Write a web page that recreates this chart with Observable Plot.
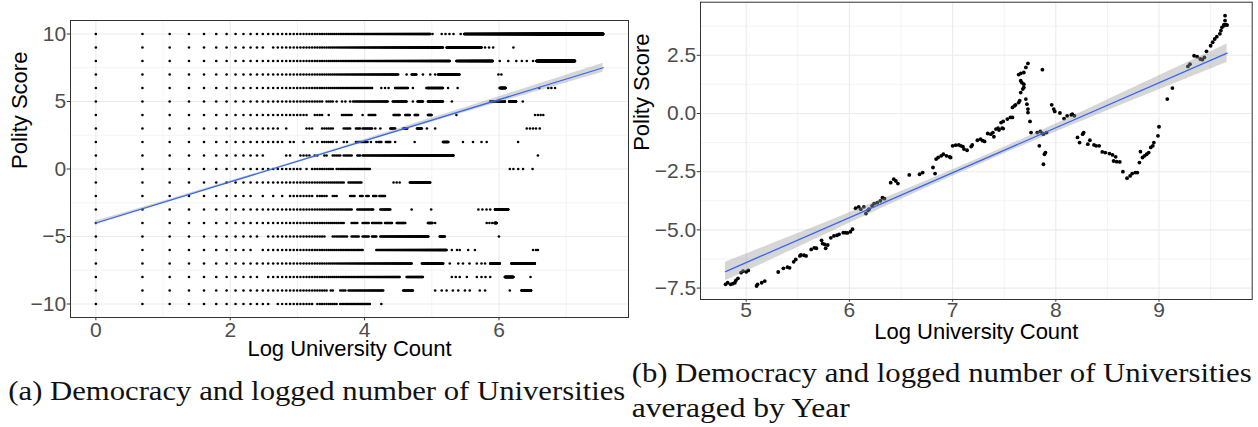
<!DOCTYPE html>
<html><head><meta charset="utf-8">
<script src="https://cdn.jsdelivr.net/npm/d3@7"></script>
<script src="https://cdn.jsdelivr.net/npm/@observablehq/plot@0.6"></script>
<style>
html,body{margin:0;padding:0;background:#fff;width:1258px;height:427px;overflow:hidden;position:relative}
#a,#b{position:absolute;top:0}
#a{left:0}
#b{left:628px}
#cap{position:absolute;left:0;top:0;pointer-events:none}
</style></head><body>
<div id="a"></div><div id="b"></div>
<svg id="cap" width="1258" height="427"></svg>
<script>
// ---------- Panel (a): Polity score vs log university count ----------
const polityLevels = [10,9,8,7,6,5,4,3,2,1,0,-1,-2,-3,-4,-5,-6,-7,-8,-9,-10];
// runs of university counts (integers) observed at each polity level
const universityCountRuns = [
  [[1,145],[150,150],[172,172],[182,182],[193,193],[205,205],[228,228],[240,1900]],
  [[1,12],[14,175],[185,311],[328,328],[348,348],[370,370],[500,500]],
  [[1,194],[214,368],[408,408],[463,463],[522,522],[567,567],[610,610],[670,670],[705,1250]],
  [[1,90],[102,102],[110,118],[130,130],[145,145],[156,156],[163,224],[400,400],[418,418]],
  [[1,61],[70,70],[74,74],[78,78],[86,104],[112,112],[137,175],[189,189],[218,218],[408,445],[735,735],[840,840],[880,880],[930,930]],
  [[1,29],[31,34],[36,36],[39,39],[41,41],[44,44],[46,77],[83,102],[112,112],[120,130],[140,175],[200,200],[355,440],[470,520],[575,575]],
  [[1,23],[26,29],[32,32],[39,45],[53,53],[58,64],[84,92],[100,107],[115,121],[140,148],[214,214],[690,690],[720,720],[750,750],[780,780]],
  [[1,15],[17,17],[23,25],[29,34],[40,44],[48,51],[53,61],[64,64],[69,69],[80,86],[97,103],[119,128],[138,138],[156,156],[610,610],[640,640],[670,670],[700,700],[740,740]],
  [[1,16],[18,19],[22,22],[25,25],[27,27],[29,34],[36,36],[40,40],[42,42],[48,57],[60,60],[65,65],[67,70],[75,80],[86,86],[115,115],[175,190],[236,236],[274,274],[311,311],[336,336],[536,536]],
  [[1,12],[17,18],[21,24],[26,27],[30,31],[34,38],[40,45],[49,51],[53,205],[720,720]],
  [[1,21],[23,23],[25,34],[36,59],[474,474],[500,500],[537,537],[577,577],[665,665]],
  [[1,40],[43,52],[84,84],[88,88],[92,92],[107,145]],
  [[1,10],[12,12],[14,14],[16,16],[18,25],[27,31],[34,36],[44,47],[51,53],[56,58],[62,65],[68,74]],
  [[1,45],[49,62],[69,80],[110,110],[147,147],[297,297],[315,315],[335,335],[354,354],[380,463]],
  [[1,40],[45,49],[53,58],[61,70],[74,82],[88,100],[140,150],[156,156],[336,336],[350,350],[365,365],[378,390]],
  [[1,11],[13,30],[34,42],[45,50],[53,58],[61,65],[69,141],[167,180],[403,403]],
  [[1,10],[12,53],[65,185],[200,200],[216,216],[225,225],[255,255],[282,282],[670,670],[700,700],[720,720]],
  [[1,110],[128,176],[194,194],[220,220],[236,236],[260,260],[290,290],[311,311],[328,328],[354,408],[486,687]],
  [[1,11],[13,92],[102,130],[200,200],[212,212],[225,225],[250,250],[290,290],[311,311],[330,330],[354,354],[440,500],[645,645]],
  [[1,31],[33,34],[38,41],[43,72],[97,112],[156,156],[172,172],[185,185],[203,203],[220,220],[243,243],[261,261],[303,303],[328,328],[474,474],[565,650]],
  [[1,13],[15,25],[27,36],[38,59],[70,70]]
];
const xTicksA = [0,2,4,6];
const xMinorA = [1,3,5,7];
const yTicksA = [-10,-5,0,5,10];
const yMinorA = [-7.5,-2.5,2.5,7.5];
const fitAX = [0, 7.55];
const fitAY = [-4.0, 7.50];
const bandAX  = [0, 1, 2, 3, 4, 5, 6, 7, 7.55];
const bandALo = [-4.15, -2.58, -1.01, 0.52, 2.00, 3.47, 4.92, 6.37, 7.17];
const bandAHi = [-3.85, -2.38, -0.89, 0.62, 2.18, 3.77, 5.36, 6.95, 7.83];

// ---------- Panel (b): averaged by year ----------
const logUnivB = [4.80,4.82,4.85,4.87,4.89,4.90,4.92,4.95,4.97,5.00,5.02,5.10,5.11,5.15,5.18,5.31,5.36,5.40,5.42,5.46,5.48,5.52,5.53,5.56,5.58,5.63,5.66,5.68,5.73,5.74,5.76,5.77,5.79,5.82,5.85,5.88,5.90,5.94,5.96,5.98,6.01,6.03,6.06,6.09,6.11,6.14,6.16,6.18,6.19,6.22,6.24,6.27,6.30,6.32,6.34,6.40,6.43,6.45,6.47,6.58,6.68,6.71,6.81,6.83,6.84,6.86,6.89,6.91,6.94,6.97,6.98,7.00,7.03,7.06,7.08,7.10,7.11,7.14,7.18,7.19,7.24,7.27,7.29,7.31,7.34,7.37,7.39,7.40,7.42,7.44,7.45,7.48,7.49,7.47,7.49,7.53,7.56,7.58,7.58,7.60,7.61,7.64,7.65,7.66,7.68,7.69,7.69,7.67,7.66,7.64,7.66,7.69,7.71,7.73,7.71,7.72,7.73,7.73,7.75,7.76,7.82,7.85,7.87,7.88,7.91,7.84,7.89,7.90,7.88,7.87,7.96,7.98,7.99,8.04,8.08,8.11,8.15,8.16,8.18,8.21,8.23,8.26,8.27,8.31,8.33,8.37,8.39,8.42,8.45,8.48,8.52,8.55,8.58,8.56,8.59,8.62,8.65,8.69,8.72,8.74,8.77,8.79,8.81,8.82,8.84,8.86,8.88,8.90,8.92,8.94,8.95,8.99,9.00,9.08,9.13,9.28,9.30,9.34,9.37,9.40,9.42,9.44,9.46,9.50,9.52,9.54,9.56,9.59,9.60,9.61,9.63,9.64,9.64,9.63,9.65,9.66];
const polityB = [-7.34,-7.27,-7.34,-7.31,-7.27,-7.17,-7.08,-6.84,-6.77,-6.80,-6.74,-7.41,-7.34,-7.27,-7.20,-6.81,-6.65,-6.60,-6.63,-6.37,-6.27,-6.12,-6.08,-6.09,-6.12,-5.84,-5.77,-5.79,-5.45,-5.59,-5.62,-5.79,-5.65,-5.34,-5.26,-5.23,-5.19,-5.12,-5.12,-5.13,-5.08,-4.97,-4.07,-4.01,-4.11,-4.01,-4.30,-4.16,-4.11,-3.97,-3.87,-3.83,-3.75,-3.62,-3.66,-2.97,-2.82,-2.90,-3.01,-2.64,-2.61,-2.54,-2.32,-2.58,-1.96,-1.89,-1.82,-1.75,-1.82,-1.86,-1.89,-1.39,-1.36,-1.35,-1.39,-1.42,-1.53,-1.58,-1.42,-1.35,-1.15,-1.10,-1.17,-1.20,-0.86,-0.89,-0.82,-1.00,-0.67,-0.63,-0.71,-0.63,-0.65,-0.39,-0.34,-0.24,-0.17,-0.17,0.26,0.33,0.37,0.47,0.55,0.90,1.05,1.12,1.26,1.33,1.41,1.67,1.72,1.76,1.98,2.15,0.62,0.40,0.19,0.04,-0.34,-0.82,-0.82,-0.77,-0.86,-0.89,-0.82,-1.39,-1.75,-1.68,-2.18,1.88,0.37,0.19,0.09,0.02,-0.22,-0.10,-0.06,-0.03,-0.10,-1.03,-1.25,-0.89,-0.82,-1.32,-1.15,-1.35,-1.39,-1.39,-1.65,-1.68,-1.72,-1.78,-1.86,-2.04,-2.07,-2.08,-2.50,-2.78,-2.68,-2.58,-2.54,-2.54,-2.11,-1.64,-1.89,-1.82,-1.75,-1.68,-1.46,-1.39,-1.25,-0.96,-0.57,0.62,1.09,2.02,2.12,2.48,2.44,2.34,2.31,2.41,2.67,2.91,3.06,3.20,3.30,3.42,3.56,3.70,3.82,3.99,4.20,3.77,3.82,3.80];
const xTicksB = [5,6,7,8,9];
const xMinorB = [5.5,6.5,7.5,8.5,9.5];
const yTicksB = [-7.5,-5,-2.5,0,2.5];
const yMinorB = [-6.25,-3.75,-1.25,1.25,3.75];
const fitBX = [4.80, 9.66];
const fitBY = [-6.79, 2.59];
const bandBX  = [4.80, 5.5, 6, 6.5, 7, 7.5, 8, 8.5, 9, 9.66];
const bandBLo = [-7.19, -5.76, -4.72, -3.69, -2.70, -1.73, -0.79, 0.12, 1.02, 2.19];
const bandBHi = [-6.39, -5.16, -4.26, -3.35, -2.42, -1.45, -0.45, 0.58, 1.62, 2.99];

const xLabel = "Log University Count";
const yLabel = "Polity Score";
const captionA = "(a) Democracy and logged number of Universities";
const captionB1 = "(b) Democracy and logged number of Universities";
const captionB2 = "averaged by Year";

// ---------- build tables ----------
const pointsA = [];
polityLevels.forEach((lvl, i) => {
  for (const [a, b] of universityCountRuns[i]) for (let n = a; n <= b; n++) pointsA.push({x: Math.log(n), y: lvl});
});
const fitA = fitAX.map((x, i) => ({x, y: fitAY[i]}));
const bandA = bandAX.map((x, i) => ({x, lo: bandALo[i], hi: bandAHi[i]}));
const pointsB = logUnivB.map((x, i) => ({x, y: polityB[i]}));
const fitB = fitBX.map((x, i) => ({x, y: fitBY[i]}));
const bandB = bandBX.map((x, i) => ({x, lo: bandBLo[i], hi: bandBHi[i]}));

function expand(vals) { const lo = d3.min(vals), hi = d3.max(vals), s = hi - lo; return [lo - 0.05*s, hi + 0.05*s]; }

const font = '"Liberation Sans", Arial, Helvetica, sans-serif';
const GRID = '#EBEBEB', BORDER = '#333333', TICKTXT = '#4D4D4D';

function panel(o) {
  return Plot.plot({
    width: o.width, height: o.height,
    marginLeft: o.ml, marginRight: o.mr, marginTop: o.mt, marginBottom: o.mb,
    x: {domain: o.xdom}, y: {domain: o.ydom},
    style: {fontFamily: font, background: 'transparent', overflow: 'visible'},
    marks: [
      Plot.gridX({ticks: o.xMinor, stroke: GRID, strokeOpacity: 1, strokeWidth: 0.6}),
      Plot.gridY({ticks: o.yMinor, stroke: GRID, strokeOpacity: 1, strokeWidth: 0.6}),
      Plot.gridX({ticks: o.xTicks, stroke: GRID, strokeOpacity: 1, strokeWidth: 1.1}),
      Plot.gridY({ticks: o.yTicks, stroke: GRID, strokeOpacity: 1, strokeWidth: 1.1}),
      Plot.dot(o.points, {x: 'x', y: 'y', r: o.r, fill: '#000', stroke: 'none'}),
      Plot.areaY(o.band, {x: 'x', y1: 'lo', y2: 'hi', fill: '#999999', fillOpacity: 0.4, curve: 'natural'}),
      Plot.line(o.fit, {x: 'x', y: 'y', stroke: '#3366FF', strokeWidth: 1.3}),
      Plot.frame({stroke: BORDER, strokeWidth: 1}),
      Plot.axisX({ticks: o.xTicks, tickSize: o.xts, tickPadding: o.xtp, fontSize: 21, stroke: BORDER, fill: TICKTXT, label: null, tickFormat: o.xfmt}),
      Plot.axisY({ticks: o.yTicks, tickSize: 3.3, tickPadding: 1, fontSize: 21, stroke: BORDER, fill: TICKTXT, label: null, tickFormat: o.yfmt}),
      Plot.text([xLabel], {text: d => d, frameAnchor: 'bottom', lineAnchor: 'bottom', dy: o.xldy, fontSize: 22, fill: '#000'}),
      Plot.text([yLabel], {text: d => d, frameAnchor: 'left', rotate: -90, lineAnchor: 'bottom', dx: o.yldx, fontSize: 22, fill: '#000'})
    ]
  });
}

const plotA = panel({
  width: 632, height: 362, ml: 70, mr: 4, mt: 20, mb: 45,
  xdom: expand(fitAX.concat(pointsA.map(d => d.x))), ydom: expand(polityLevels),
  xTicks: xTicksA, xMinor: xMinorA, yTicks: yTicksA, yMinor: yMinorA,
  points: pointsA, r: 1.3, band: bandA, fit: fitA,
  xts: 3.3, xtp: 1.4, xfmt: d => String(d), yfmt: undefined,
  xldy: 38, yldx: -43.5
});
document.getElementById('a').appendChild(plotA);

const plotB = panel({
  width: 630, height: 345, ml: 72, mr: 6.3, mt: 1.7, mb: 46,
  xdom: expand(logUnivB), ydom: expand(polityB),
  xTicks: xTicksB, xMinor: xMinorB, yTicks: yTicksB, yMinor: yMinorB,
  points: pointsB, r: 1.9, band: bandB, fit: fitB,
  xts: 2.7, xtp: 0, xfmt: d => String(d), yfmt: d3.format('.1f'),
  xldy: 39, yldx: -51.5
});
document.getElementById('b').appendChild(plotB);

// ---------- captions ----------
const cap = d3.select('#cap');
function capText(str, x, y, w) {
  cap.append('text').attr('x', x).attr('y', y)
    .attr('textLength', w).attr('lengthAdjust', 'spacingAndGlyphs')
    .attr('font-family', '"Liberation Serif", "Times New Roman", serif')
    .attr('font-size', 27.5).attr('fill', '#111').text(str);
}
capText(captionA, 8.3, 400, 617);
capText(captionB1, 631.7, 381.7, 620);
capText(captionB2, 631.7, 416.7, 218);
</script>
</body></html>
